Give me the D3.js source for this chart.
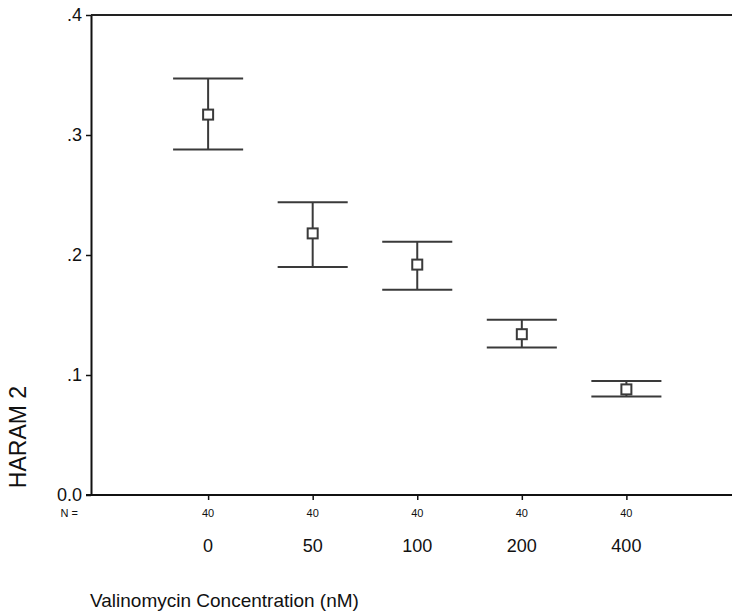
<!DOCTYPE html>
<html>
<head>
<meta charset="utf-8">
<script src="https://cdn.jsdelivr.net/npm/d3@7"></script>
<style>
  body { margin: 0; background: #fff; }
  text { font-family: "Liberation Sans", Arial, sans-serif; fill: #111; }
</style>
</head>
<body>
<div id="chart"></div>
<script>
// data
const concentrations = ["0", "50", "100", "200", "400"];
const counts = [40, 40, 40, 40, 40];
const means = [0.317, 0.218, 0.192, 0.134, 0.088];
const upper = [0.347, 0.244, 0.211, 0.146, 0.095];
const lower = [0.288, 0.190, 0.171, 0.123, 0.082];
const yTicks = [0, 0.1, 0.2, 0.3, 0.4];
const yTickLabels = ["0.0", ".1", ".2", ".3", ".4"];

let margin = {top: 15, right: 0, bottom: 121, left: 91},
    width = 732 - margin.left - margin.right,
    height = 616 - margin.top - margin.bottom;

let svg = d3.select("#chart").append("svg")
    .attr("width", 732)
    .attr("height", 616)
  .append("g")
    .attr("transform", "translate(" + margin.left + "," + margin.top + ")");

// category index -> x (figure is cropped on the right)
let x = d3.scaleLinear()
    .domain([-1.12, 5.01])
    .range([0, width]);

let y = d3.scaleLinear()
    .domain([0, 0.4])
    .range([height, 0]);

// left axis
let yAxis = svg.append("g")
    .call(d3.axisLeft(y)
      .tickValues(yTicks)
      .tickFormat((d, i) => yTickLabels[i])
      .tickSize(5)
      .tickSizeOuter(0));
yAxis.select(".domain").attr("stroke", "#111").attr("stroke-width", 2);
yAxis.selectAll(".tick line").attr("stroke", "#111").attr("stroke-width", 1.5);
yAxis.selectAll(".tick text")
    .attr("x", -9)
    .style("font-size", "18px")
    .style("font-family", "Liberation Sans, Arial, sans-serif")
    .attr("fill", "#111");

// top frame line
svg.append("line")
    .attr("x1", 0).attr("x2", width)
    .attr("y1", y(0.4)).attr("y2", y(0.4))
    .attr("stroke", "#222").attr("stroke-width", 2);

// bottom axis
let xAxis = svg.append("g")
    .attr("transform", "translate(0," + height + ")")
    .call(d3.axisBottom(x)
      .tickValues(d3.range(concentrations.length))
      .tickFormat("")
      .tickSize(5)
      .tickSizeOuter(0));
xAxis.select(".domain").attr("stroke", "#111").attr("stroke-width", 2)
    .attr("d", "M-5,0H" + width);
xAxis.selectAll(".tick line").attr("stroke", "#111").attr("stroke-width", 1.5);

// N row
svg.append("text")
    .attr("x", -13)
    .attr("y", height + 22)
    .attr("text-anchor", "end")
    .style("font-size", "11px")
    .text("N =");

svg.selectAll(".nlab")
    .data(counts)
  .enter().append("text")
    .attr("class", "nlab")
    .attr("x", (d, i) => x(i))
    .attr("y", height + 22)
    .attr("text-anchor", "middle")
    .style("font-size", "11px")
    .text(d => d);

// category labels
svg.selectAll(".clab")
    .data(concentrations)
  .enter().append("text")
    .attr("class", "clab")
    .attr("x", (d, i) => x(i))
    .attr("y", height + 57)
    .attr("text-anchor", "middle")
    .style("font-size", "18px")
    .text(d => d);

// error bars
let capHalf = 0.335;
let bars = svg.selectAll(".ebar")
    .data(means)
  .enter().append("g")
    .attr("class", "ebar")
    .attr("stroke", "#3a3a3a")
    .attr("stroke-width", 2)
    .attr("fill", "none");

bars.append("line")
    .attr("x1", (d, i) => x(i)).attr("x2", (d, i) => x(i))
    .attr("y1", (d, i) => y(upper[i])).attr("y2", (d, i) => y(lower[i]));
bars.append("line")
    .attr("x1", (d, i) => x(i - capHalf)).attr("x2", (d, i) => x(i + capHalf))
    .attr("y1", (d, i) => y(upper[i])).attr("y2", (d, i) => y(upper[i]));
bars.append("line")
    .attr("x1", (d, i) => x(i - capHalf)).attr("x2", (d, i) => x(i + capHalf))
    .attr("y1", (d, i) => y(lower[i])).attr("y2", (d, i) => y(lower[i]));
bars.append("rect")
    .attr("x", (d, i) => x(i) - 5)
    .attr("y", d => y(d) - 5)
    .attr("width", 10)
    .attr("height", 10)
    .attr("fill", "#fff");

// axis titles
svg.append("text")
    .attr("transform", "translate(" + (-65) + "," + (height - 58) + ") rotate(-90)")
    .attr("text-anchor", "middle")
    .style("font-size", "23px")
    .text("HARAM 2");

svg.append("text")
    .attr("x", -1)
    .attr("y", height + 112)
    .style("font-size", "19px")
    .text("Valinomycin Concentration (nM)");
</script>
</body>
</html>
